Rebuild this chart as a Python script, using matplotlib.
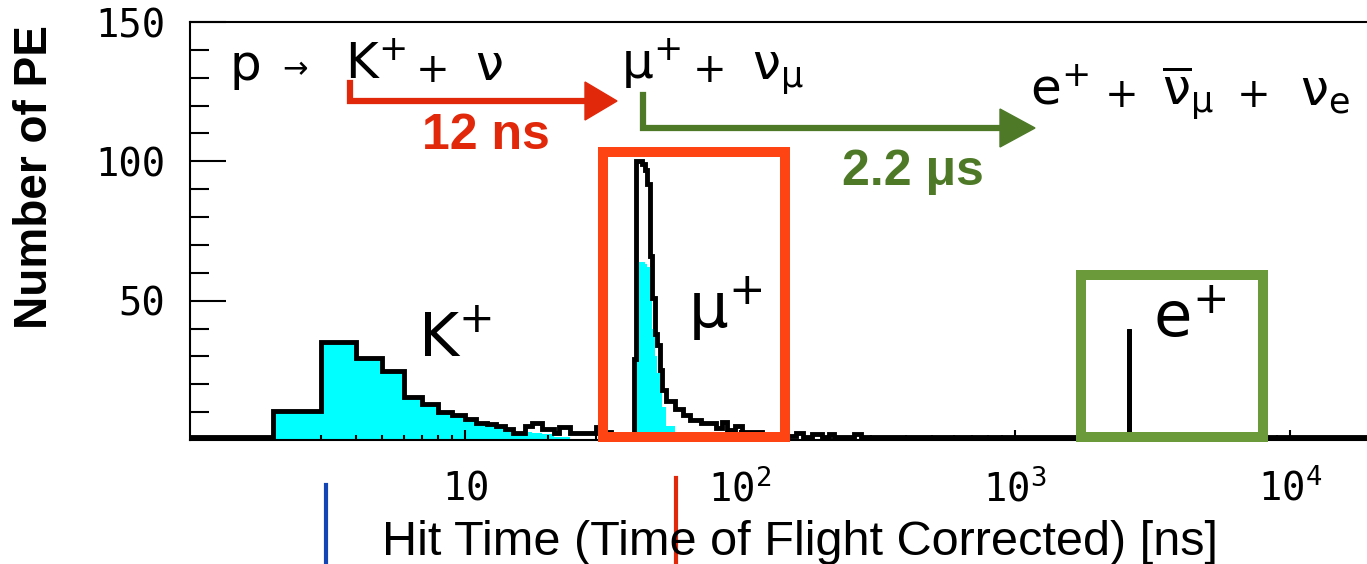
import numpy as np
import matplotlib.pyplot as plt
from matplotlib.lines import Line2D
from matplotlib.patches import Polygon, Rectangle
from matplotlib.ticker import LogLocator, NullFormatter

plt.rcParams['font.family'] = 'DejaVu Sans'
plt.rcParams['mathtext.default'] = 'regular'

# hit time histogram, bin edges in ns
edges = [1, 2, 3, 4, 5, 6, 7, 8, 9, 10, 11, 12, 13, 14, 15, 16.5, 17.5, 19, 21, 22, 24, 27, 30,
         32, 34, 36, 38, 40, 41, 42, 43, 44, 45, 46, 47, 48, 49, 50, 51, 52, 54, 58, 62, 66, 72,
         82, 86, 90, 96, 102, 120, 160, 170, 183, 198, 210, 220, 260, 275, 2590, 2605, 30000]
# all hits (black outline)
total_pe = [1, 10.5, 35, 29.6, 24.8, 15.3, 12.9, 10, 9, 7.4, 6, 5.6, 5, 3.8, 2.6, 5, 6, 3.8, 2.4,
            4.5, 2.6, 2.4, 4.5, 3, 2, 1.5, 1.5, 2, 29, 100, 100, 99, 97, 92, 66, 51, 38, 34, 25,
            18, 14, 11, 9, 7, 6, 4.3, 6.5, 3.6, 5, 3, 1.5, 2.6, 1.2, 2, 1.2, 2, 1.2, 2, 1, 40, 1]
# hits from K+ and mu+ (cyan fill)
prompt_pe = [0, 10.5, 35, 29.6, 24.8, 15.3, 12.9, 10, 9, 7.4, 6, 5.6, 5, 3.8, 2.6, 3, 2.5, 2, 1,
             1, 0.5, 0, 0, 0, 0, 0, 0, 0, 0, 62, 64, 64, 63, 62, 50, 40, 30, 24, 18,
             12, 5, 0, 2, 0, 0, 0, 0, 0, 0, 0, 0, 0, 0, 0, 0, 0, 0, 0, 0, 0, 0]

xticks = [10, 100, 1000, 10000]
xticklabels = ['$10$', '$10^{2}$', '$10^{3}$', '$10^{4}$']
yticks = [50, 100, 150]

W, H = 1367, 564


def fx(x):
    return x / W


def fy(y):
    return 1 - y / H


fig = plt.figure(figsize=(W / 100, H / 100), dpi=100)
ax = fig.add_axes([fx(190), fy(440), 1237.5 / W, 418 / H])

ax.stairs(prompt_pe, edges, fill=True, color='#00FFFF', lw=0)
ax.stairs(total_pe, edges, baseline=None, color='black', lw=3.5)

ax.set_xscale('log')
ax.set_xlim(1, 10 ** 4.5)
ax.set_ylim(0, 150)

ax.set_xticks(xticks, labels=xticklabels)
ax.xaxis.set_minor_locator(LogLocator(base=10, subs=np.arange(2, 10)))
ax.xaxis.set_minor_formatter(NullFormatter())
ax.set_yticks(yticks)
ax.set_yticks([v for v in range(10, 150, 10) if v not in yticks], minor=True)

ax.tick_params(axis='y', which='major', direction='in', length=26, width=1.5, pad=18, labelsize=28)
ax.tick_params(axis='y', which='minor', direction='in', length=14, width=1.5)
ax.tick_params(axis='x', which='major', direction='in', length=7, width=1.5, pad=21, labelsize=28)
ax.tick_params(axis='x', which='minor', direction='in', length=3.5, width=1.5)
for lab in ax.get_xticklabels() + ax.get_yticklabels():
    lab.set_fontfamily('DejaVu Sans Mono')
for s in ax.spines.values():
    s.set_linewidth(1.5)

fig.text(fx(35), fy(177), 'Number of PE', rotation=90, ha='center', va='center',
         fontsize=33, fontweight='bold', family='Liberation Sans')
fig.text(fx(800), fy(555), 'Hit Time (Time of Flight Corrected) [ns]', ha='center',
         va='baseline', fontsize=35, family='Liberation Sans')

# decay chain
red = '#E2280A'
green = '#4E7A28'
tokens = [('p', 230, 80), ('K$^{+}$', 345, 80), ('ν', 475, 80),
          ('μ$^{+}$', 621, 80), ('$ν_{μ}$', 752, 80),
          ('e$^{+}$', 1030, 105), (r'$\overline{ν}_{μ}$', 1162, 105), ('$ν_{e}$', 1300, 105)]
for t, x, y in tokens:
    fig.text(fx(x), fy(y), t, ha='left', va='baseline', fontsize=36)
for x, y in [(433, 71), (710, 71), (1122, 96), (1254, 96)]:
    fig.text(fx(x), fy(y), '+', ha='center', va='center', fontsize=29)
fig.text(fx(282), fy(70), '→', ha='left', va='center', fontsize=22)

fig.add_artist(Line2D([fx(350), fx(350), fx(588)], [fy(83), fy(101), fy(101)],
                      color=red, lw=4.5, solid_joinstyle='miter'))
fig.add_artist(Polygon([(fx(585), fy(82)), (fx(617), fy(101)), (fx(585), fy(120))],
                       closed=True, color=red, transform=fig.transFigure))
fig.text(fx(486), fy(136), '12 ns', ha='center', va='center', fontsize=36,
         fontweight='bold', family='Liberation Sans', color=red)

fig.add_artist(Line2D([fx(643), fx(643), fx(1004)], [fy(95), fy(128), fy(128)],
                      color=green, lw=4.5, solid_joinstyle='miter'))
fig.add_artist(Polygon([(fx(1000), fy(109)), (fx(1035), fy(128)), (fx(1000), fy(147))],
                       closed=True, color=green, transform=fig.transFigure))
fig.text(fx(913), fy(172), '2.2 μs', ha='center', va='center', fontsize=36,
         fontweight='bold', family='Liberation Sans', color=green)

# selection boxes
fig.add_artist(Rectangle((fx(603), fy(437)), 182 / W, 285 / H, fill=False,
                         ec='#FF4414', lw=7.2, transform=fig.transFigure))
fig.add_artist(Rectangle((fx(1081), fy(437)), 182 / W, 162 / H, fill=False,
                         ec='#6A9A3A', lw=7.2, transform=fig.transFigure))

fig.text(fx(418), fy(357), 'K$^{+}$', ha='left', va='baseline', fontsize=44)
fig.text(fx(688), fy(328), 'μ$^{+}$', ha='left', va='baseline', fontsize=45)
fig.text(fx(1153), fy(337), 'e$^{+}$', ha='left', va='baseline', fontsize=45)

fig.add_artist(Line2D([fx(326), fx(326)], [fy(485), fy(564)], color='#1346B4', lw=3))
fig.add_artist(Line2D([fx(675.5), fx(675.5)], [fy(478), fy(564)], color=red, lw=3))

fig.savefig('out.png', dpi=100, facecolor='white')
